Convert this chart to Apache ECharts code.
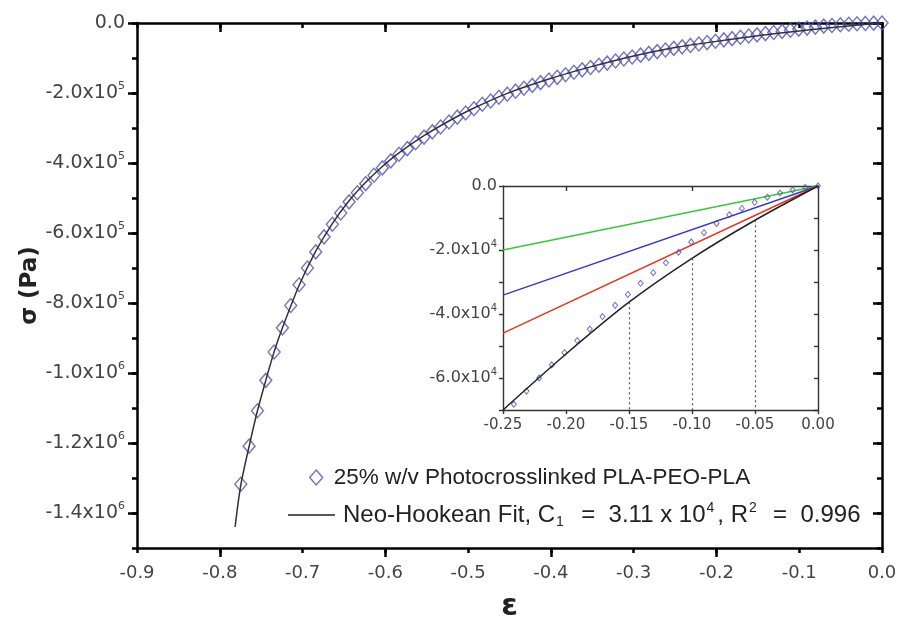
<!DOCTYPE html>
<html>
<head>
<meta charset="utf-8">
<script src="https://cdn.jsdelivr.net/npm/echarts@6/dist/echarts.min.js"></script>
<style>
  html, body { margin: 0; padding: 0; background: #fff; }
  #chart { width: 898px; height: 619px; }
</style>
</head>
<body>
<div id="chart"></div>
<script>
// Measured compression data: engineering strain and nominal stress (Pa)
const strain = [
  -0.7746, -0.7646, -0.7545, -0.7444, -0.7344, -0.7243, -0.7143, -0.7042, -0.6941, -0.6841,
  -0.6740, -0.6640, -0.6539, -0.6438, -0.6338, -0.6237, -0.6137, -0.6036, -0.5935, -0.5835,
  -0.5734, -0.5634, -0.5533, -0.5432, -0.5332, -0.5231, -0.5131, -0.5030, -0.4929, -0.4829,
  -0.4728, -0.4628, -0.4527, -0.4426, -0.4326, -0.4225, -0.4125, -0.4024, -0.3923, -0.3823,
  -0.3722, -0.3622, -0.3521, -0.3420, -0.3320, -0.3219, -0.3119, -0.3018, -0.2917, -0.2817,
  -0.2716, -0.2616, -0.2515, -0.2414, -0.2314, -0.2213, -0.2113, -0.2012, -0.1911, -0.1811,
  -0.1710, -0.1610, -0.1509, -0.1408, -0.1308, -0.1207, -0.1107, -0.1006, -0.0905, -0.0805,
  -0.0704, -0.0604, -0.0503, -0.0402, -0.0302, -0.0201, -0.0101, 0
];
const stress = [
  -1318000, -1209000, -1108000, -1021000, -940000, -871000, -807000, -748000, -700000, -654000,
  -611000, -575000, -543000, -511000, -485000, -459000, -435000, -414000, -394000, -375000,
  -359000, -342000, -326000, -311000, -297000, -283000, -269000, -257000, -245000, -232000,
  -223000, -212200, -203400, -194800, -186500, -178300, -170400, -162700, -155200, -147900,
  -140800, -133900, -127300, -120800, -114600, -108600, -102800, -97200, -91800, -86700,
  -81700, -77000, -72500, -68200, -64100, -60000, -55900, -52100, -48300, -44700,
  -40800, -37300, -33900, -30400, -27100, -24000, -20700, -17500, -14600, -11700,
  -9000, -7000, -5100, -3500, -2200, -1250, -400, 0
];

// Neo-Hookean fit curve
const fitStrain = [-0.7815, -0.7746, -0.7646, -0.7545, -0.7444, -0.7344, -0.7243, -0.7042, -0.6841,
  -0.6640, -0.6438, -0.6237, -0.6036, -0.5835, -0.5533, -0.5231, -0.4929, -0.4527, -0.4024,
  -0.35, -0.30, -0.25, -0.20, -0.15, -0.10, -0.05, 0];
const fitStress = [-1440000, -1320000, -1210000, -1108000, -1021000, -940000, -871000, -750000, -652000,
  -573000, -508000, -455000, -410000, -371000, -322000, -280000, -243000, -201000, -160000,
  -124000, -94000, -70000, -52500, -36300, -22600, -10700, 0];

// Small-strain comparison lines in the inset
const insetLineStrain = [-0.25, 0];
const greenLine = [-20000, 0];
const blueLine = [-34100, 0];
const redLine = [-46000, 0];

// Drop lines from the fit curve down to the inset floor
const dropStrain = [-0.15, -0.10, -0.05];
const dropStress = [-36300, -22600, -10700];

// Tick positions
const mainMajorX = [-0.8, -0.6, -0.4, -0.2];
const mainMajorY = [-1400000, -1200000, -1000000, -800000, -600000, -400000, -200000, 0];
const insetLabelY = [-60000, -40000, -20000, 0];
const insetTopTicks = [-0.2, -0.1];

const legendData = '25% w/v Photocrosslinked PLA-PEO-PLA';
const legendFit = 'Neo-Hookean Fit';

const AX_FONT = 'DejaVu Sans';
const LEG_FONT = 'Liberation Sans';
const LABEL_COLOR = '#444';
const DIAMOND_COLOR = '#4f4fb3';

function sci(v) {
  if (Math.abs(v) < 1e-9) return '{m|0.0}';
  const e = Math.floor(Math.log10(Math.abs(v)) + 1e-9);
  const m = (v / Math.pow(10, e)).toFixed(1);
  return '{m|' + m + 'x10}{e|' + e + '}';
}
function sciRich(size) {
  return {
    m: { fontSize: size, fontFamily: AX_FONT, color: LABEL_COLOR, lineHeight: size + 5 },
    e: { fontSize: Math.round(size * 0.6), fontFamily: AX_FONT, color: LABEL_COLOR, verticalAlign: 'top', lineHeight: 8 }
  };
}

const pairs = (xs, ys) => xs.map((x, i) => [x, ys[i]]);
const mainPts = pairs(strain, stress);
const insetPts = mainPts.filter(p => p[0] >= -0.25);
const fitPts = pairs(fitStrain, fitStress);
const insetFitPts = fitPts.filter(p => p[0] >= -0.25);

const thick = { color: '#000', width: 2.5 };
const thin = { color: '#333', width: 1.4 };
const noLabel = { show: false };
const noSplit = { show: false };
const line = (style, show = true) => ({ show, onZero: false, lineStyle: style });

const chart = echarts.init(document.getElementById('chart'), null, { renderer: 'canvas' });

chart.setOption({
  backgroundColor: '#fff',
  animation: false,
  grid: [
    { left: 137, top: 23, width: 745, height: 525, outerBoundsMode: 'none', containLabel: false },
    { left: 503, top: 186, width: 315, height: 224, outerBoundsMode: 'none', containLabel: false },
    { left: 137, top: 23, width: 745, height: 525, outerBoundsMode: 'none', containLabel: false }
  ],
  xAxis: [
    { // main bottom
      gridIndex: 0, type: 'value', position: 'bottom', min: -0.9, max: 0, interval: 0.1,
      axisLine: line(thick), axisTick: { length: 5, lineStyle: thick },
      axisLabel: { formatter: v => v.toFixed(1), fontSize: 18, fontFamily: AX_FONT, color: LABEL_COLOR, margin: 16 },
      splitLine: noSplit,
      name: 'ε', nameLocation: 'middle', nameGap: 44,
      nameTextStyle: { fontSize: 30, fontWeight: 'bold', color: '#222', fontFamily: AX_FONT }
    },
    { // main top
      gridIndex: 0, type: 'value', position: 'top', min: -0.9, max: 0, interval: 0.1,
      axisLine: line(thick), axisTick: { inside: true, length: 5, lineStyle: thick },
      axisLabel: noLabel, splitLine: noSplit
    },
    { // inset bottom
      gridIndex: 1, type: 'value', position: 'bottom', min: -0.25, max: 0, interval: 0.05,
      axisLine: line(thin), axisTick: { length: 4, lineStyle: thin },
      axisLabel: { formatter: v => v.toFixed(2), fontSize: 15, fontFamily: AX_FONT, color: LABEL_COLOR, margin: 8 },
      splitLine: noSplit
    },
    { // inset top
      gridIndex: 1, type: 'value', position: 'top', min: -0.25, max: 0,
      axisLine: line(thin),
      axisTick: { inside: true, length: 5, lineStyle: thin, customValues: insetTopTicks },
      axisLabel: noLabel, splitLine: noSplit
    },
    { // long ticks, top
      gridIndex: 2, type: 'value', position: 'top', min: -0.9, max: 0,
      axisLine: line(thick, false),
      axisTick: { inside: true, length: 9, lineStyle: thick, customValues: mainMajorX },
      axisLabel: noLabel, splitLine: noSplit
    },
    { // long ticks, bottom
      gridIndex: 2, type: 'value', position: 'bottom', min: -0.9, max: 0,
      axisLine: line(thick, false),
      axisTick: { length: 9, lineStyle: thick, customValues: mainMajorX },
      axisLabel: noLabel, splitLine: noSplit
    }
  ],
  yAxis: [
    { // main left
      gridIndex: 0, type: 'value', position: 'left', min: -1500000, max: 0, interval: 100000,
      axisLine: line(thick), axisTick: { length: 5, lineStyle: thick },
      axisLabel: { customValues: mainMajorY, formatter: sci, rich: sciRich(19), margin: 12 },
      splitLine: noSplit,
      name: 'σ (Pa)', nameLocation: 'middle', nameGap: 95, nameRotate: 90, nameMoveOverlap: false,
      nameTextStyle: { fontSize: 23, fontWeight: 'bold', color: '#222', fontFamily: AX_FONT }
    },
    { // main right
      gridIndex: 0, type: 'value', position: 'right', min: -1500000, max: 0, interval: 100000,
      axisLine: line(thick), axisTick: { inside: true, length: 5, lineStyle: thick },
      axisLabel: noLabel, splitLine: noSplit
    },
    { // inset left
      gridIndex: 1, type: 'value', position: 'left', min: -70000, max: 0, interval: 10000,
      axisLine: line(thin), axisTick: { length: 4, lineStyle: thin },
      axisLabel: { customValues: insetLabelY, formatter: sci, rich: sciRich(16), margin: 6 },
      splitLine: noSplit
    },
    { // inset right
      gridIndex: 1, type: 'value', position: 'right', min: -70000, max: 0, interval: 10000,
      axisLine: line(thin), axisTick: { inside: true, length: 4, lineStyle: thin },
      axisLabel: noLabel, splitLine: noSplit
    },
    { // long ticks, left
      gridIndex: 2, type: 'value', position: 'left', min: -1500000, max: 0,
      axisLine: line(thick, false),
      axisTick: { length: 9, lineStyle: thick, customValues: mainMajorY },
      axisLabel: noLabel, splitLine: noSplit
    },
    { // long ticks, right
      gridIndex: 2, type: 'value', position: 'right', min: -1500000, max: 0,
      axisLine: line(thick, false),
      axisTick: { inside: true, length: 9, lineStyle: thick, customValues: mainMajorY },
      axisLabel: noLabel, splitLine: noSplit
    }
  ],
  legend: [
    {
      data: [legendData], left: 304, top: 461, selectedMode: false,
      icon: 'diamond', itemWidth: 13, itemHeight: 15,
      itemStyle: { color: 'rgba(0,0,0,0)', borderColor: DIAMOND_COLOR, borderWidth: 1.4 },
      textStyle: { fontFamily: LEG_FONT, fontSize: 22.5, color: '#222', padding: [0, 0, 0, 6] }
    },
    {
      data: [legendFit], left: 283, top: 496, selectedMode: false,
      icon: 'rect', itemWidth: 47, itemHeight: 1.5,
      itemStyle: { color: '#222', borderWidth: 0 },
      formatter: () => '{a|Neo-Hookean Fit, C}{sub|1}{a|  =  3.11 x 10}{sup|4}{a|, R}{sup|2}{a|  =  0.996}',
      textStyle: {
        color: '#222', padding: [0, 0, 0, 3],
        rich: {
          a: { fontFamily: LEG_FONT, fontSize: 24, color: '#222', lineHeight: 28 },
          sub: { fontFamily: LEG_FONT, fontSize: 14, color: '#222', verticalAlign: 'bottom', lineHeight: 12, padding: [0, 4, 0, 1] },
          sup: { fontFamily: LEG_FONT, fontSize: 14, color: '#222', verticalAlign: 'top', lineHeight: 10, padding: [0, 3, 0, 1] }
        }
      }
    }
  ],
  series: [
    {
      name: legendData, type: 'scatter', xAxisIndex: 0, yAxisIndex: 0,
      data: mainPts, symbol: 'diamond', symbolSize: [12, 14],
      itemStyle: { color: 'rgba(0,0,0,0)', borderColor: DIAMOND_COLOR, borderWidth: 1.4 },
      z: 3
    },
    {
      name: legendFit, type: 'line', xAxisIndex: 0, yAxisIndex: 0,
      data: fitPts, smooth: 0.3, showSymbol: false,
      lineStyle: { color: '#333', width: 1.5 }, itemStyle: { color: '#333' }, z: 4
    },
    {
      type: 'scatter', xAxisIndex: 2, yAxisIndex: 2,
      data: insetPts, symbol: 'diamond', symbolSize: [5, 6],
      itemStyle: { color: 'rgba(0,0,0,0)', borderColor: DIAMOND_COLOR, borderWidth: 1 },
      z: 3
    },
    {
      type: 'line', xAxisIndex: 2, yAxisIndex: 2, data: pairs(insetLineStrain, greenLine),
      showSymbol: false, lineStyle: { color: '#3cc43c', width: 1.4 }, z: 2
    },
    {
      type: 'line', xAxisIndex: 2, yAxisIndex: 2, data: pairs(insetLineStrain, blueLine),
      showSymbol: false, lineStyle: { color: '#3838c0', width: 1.4 }, z: 2
    },
    {
      type: 'line', xAxisIndex: 2, yAxisIndex: 2, data: pairs(insetLineStrain, redLine),
      showSymbol: false, lineStyle: { color: '#e8321e', width: 1.4 }, z: 2
    },
    {
      type: 'line', xAxisIndex: 2, yAxisIndex: 2, data: insetFitPts,
      smooth: 0.3, showSymbol: false, lineStyle: { color: '#222', width: 1.5 }, z: 4,
      markLine: {
        silent: true, symbol: 'none', label: { show: false },
        lineStyle: { color: '#555', type: [2, 3], width: 1.2 },
        data: dropStrain.map((x, i) => [{ coord: [x, dropStress[i]] }, { coord: [x, -70000] }])
      }
    }
  ]
});
</script>
</body>
</html>
